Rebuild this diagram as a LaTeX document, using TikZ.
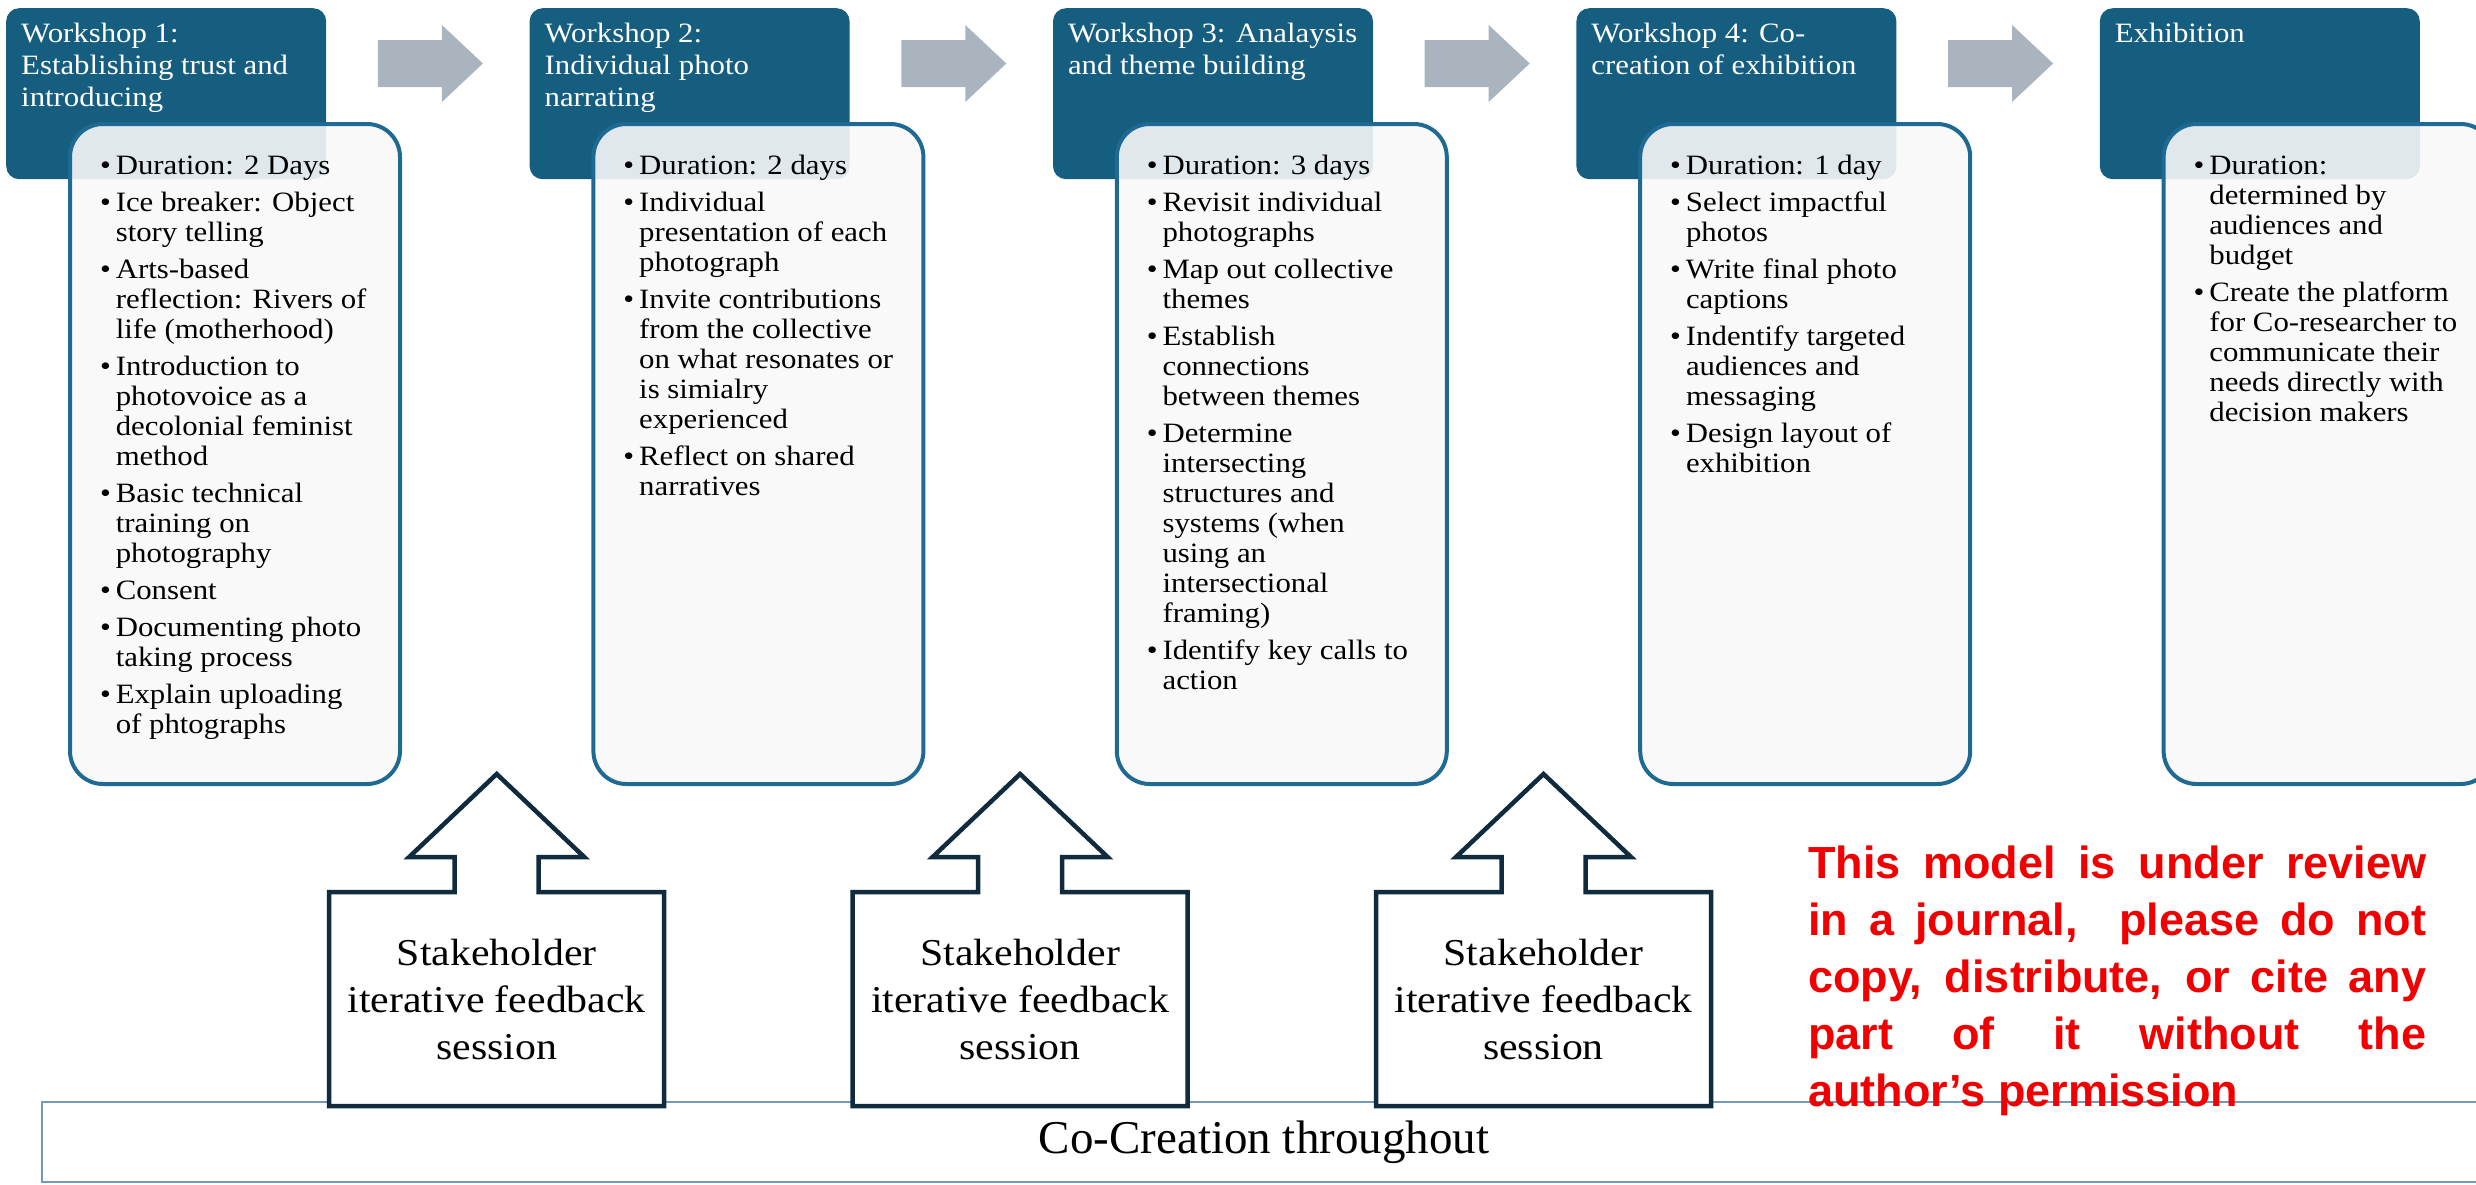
\documentclass[tikz,border=0pt]{standalone}
\usepackage{fontspec}
\setmainfont{Liberation Serif}
\newfontfamily\boxfont{Liberation Serif}[FakeStretch=1.1]
\newfontfamily\noticefont{Liberation Sans}
\usetikzlibrary{positioning,calc}
\usepackage{xcolor}
\definecolor{hdrblue}{HTML}{165E80}
\definecolor{infoline}{HTML}{1F6A93}
\definecolor{infofill}{HTML}{F8F8F8}
\definecolor{stepgrey}{HTML}{A9B4BF}
\definecolor{fbline}{HTML}{0F2B3D}
\definecolor{bandline}{HTML}{6F9AB9}
\definecolor{warnred}{HTML}{F00000}

\newcommand{\hdrtext}[1]{\parbox[t][141pt][t]{290pt}{\raggedright #1}}
\newcommand{\infolist}[1]{\parbox[t][602pt][t]{270pt}{\begin{tabular}[t]{@{}l@{\hspace{5pt}}l@{}}#1\end{tabular}}}

\begin{document}
\begin{tikzpicture}[x=1pt, y=-1pt,
        hdr/.style={fill=hdrblue, rounded corners=13pt, inner xsep=15pt, inner ysep=15pt, text=white, font=\boxfont\fontsize{28}{32}\selectfont, anchor=north west},
        info/.style={draw=infoline, line width=4pt, fill=infofill, fill opacity=0.9, text opacity=1, rounded corners=33pt, inner xsep=30pt, inner ysep=29pt, font=\boxfont\fontsize{28}{30}\selectfont, anchor=north west},
        feedback/.style={fill=white, minimum width=335pt, minimum height=214pt, inner sep=0pt, outer sep=0pt, align=center, font=\boxfont\fontsize{38}{47}\selectfont}]
                \useasboundingbox (0,0) rectangle (2476,1184);
                \node[hdr] (ws1) at (6,8) {\hdrtext{Workshop 1:\\Establishing trust and\\introducing}};
                \node[hdr,right=203pt of ws1] (ws2) {\hdrtext{Workshop 2:\\Individual photo\\narrating}};
                \node[hdr,right=203pt of ws2] (ws3) {\hdrtext{Workshop 3: Analaysis\\and theme building}};
                \node[hdr,right=203pt of ws3] (ws4) {\hdrtext{Workshop 4: Co-\\creation of exhibition}};
                \node[hdr,right=203pt of ws4] (exh) {\hdrtext{Exhibition}};
                \node[info] (ws1info) at ([shift={(62,114)}]ws1.north west) {\infolist{
                    \textbullet & Duration: 2 Days\\[7pt]
                    \textbullet & Ice breaker: Object\\ & story telling\\[7pt]
                    \textbullet & Arts-based\\ & reflection: Rivers of\\ & life (motherhood)\\[7pt]
                    \textbullet & Introduction to\\ & photovoice as a\\ & decolonial feminist\\ & method\\[7pt]
                    \textbullet & Basic technical\\ & training on\\ & photography\\[7pt]
                    \textbullet & Consent\\[7pt]
                    \textbullet & Documenting photo\\ & taking process\\[7pt]
                    \textbullet & Explain uploading\\ & of phtographs}};
                \node[info] (ws2info) at ([shift={(62,114)}]ws2.north west) {\infolist{
                    \textbullet & Duration: 2 days\\[7pt]
                    \textbullet & Individual\\ & presentation of each\\ & photograph\\[7pt]
                    \textbullet & Invite contributions\\ & from the collective\\ & on what resonates or\\ & is simialry\\ & experienced\\[7pt]
                    \textbullet & Reflect on shared\\ & narratives}};
                \node[info] (ws3info) at ([shift={(62,114)}]ws3.north west) {\infolist{
                    \textbullet & Duration: 3 days\\[7pt]
                    \textbullet & Revisit individual\\ & photographs\\[7pt]
                    \textbullet & Map out collective\\ & themes\\[7pt]
                    \textbullet & Establish\\ & connections\\ & between themes\\[7pt]
                    \textbullet & Determine\\ & intersecting\\ & structures and\\ & systems (when\\ & using an\\ & intersectional\\ & framing)\\[7pt]
                    \textbullet & Identify key calls to\\ & action}};
                \node[info] (ws4info) at ([shift={(62,114)}]ws4.north west) {\infolist{
                    \textbullet & Duration: 1 day\\[7pt]
                    \textbullet & Select impactful\\ & photos\\[7pt]
                    \textbullet & Write final photo\\ & captions\\[7pt]
                    \textbullet & Indentify targeted\\ & audiences and\\ & messaging\\[7pt]
                    \textbullet & Design layout of\\ & exhibition}};
                \node[info] (exhinfo) at ([shift={(62,114)}]exh.north west) {\infolist{
                    \textbullet & Duration:\\ & determined by\\ & audiences and\\ & budget\\[7pt]
                    \textbullet & Create the platform\\ & for Co-researcher to\\ & communicate their\\ & needs directly with\\ & decision makers}};
                \foreach \a/\b in {ws1/ws2,ws2/ws3,ws3/ws4,ws4/exh}
                    \fill[stepgrey] ($(\a.north east)!0.5!(\b.north west)+(-50,32)$) -- ++(64,0) -- ++(0,-15) -- ++(41,38.5) -- ++(-41,38.5) -- ++(0,-15) -- ++(-64,0) -- cycle;
                \node[draw=bandline,line width=2pt,minimum width=2444pt,minimum height=80pt,font=\fontsize{47}{50}\selectfont] (cocreation) at (1264,1142) {Co-Creation throughout};
                \foreach \a/\b/\n in {ws1info/ws2info/fb1,ws2info/ws3info/fb2,ws3info/ws4info/fb3}{
                    \node[feedback] (\n) at ($(\a.south east)!0.5!(\b.south west)+(0,213)$) {Stakeholder\\iterative feedback\\session};
                    \draw[fbline,line width=4.5pt] (\n.south west) -- (\n.north west) -- ([xshift=-42pt]\n.north) -- ++(0,-35) -- ++(-45.5,0) -- ++(87.5,-83) -- ++(87.5,83) -- ++(-45.5,0) -- ++(0,35) -- (\n.north east) -- (\n.south east) -- cycle;
                }
                \node[anchor=north west,text width=618pt,inner sep=0pt,align=justify,text=warnred,font=\noticefont\bfseries\fontsize{45}{57}\selectfont] (notice) at (1808,846) {This model is under review\linebreak in a journal,\ \ please do not\linebreak copy, distribute, or cite any\linebreak part of it without the\linebreak author’s permission};
            \end{tikzpicture}
\end{document}
